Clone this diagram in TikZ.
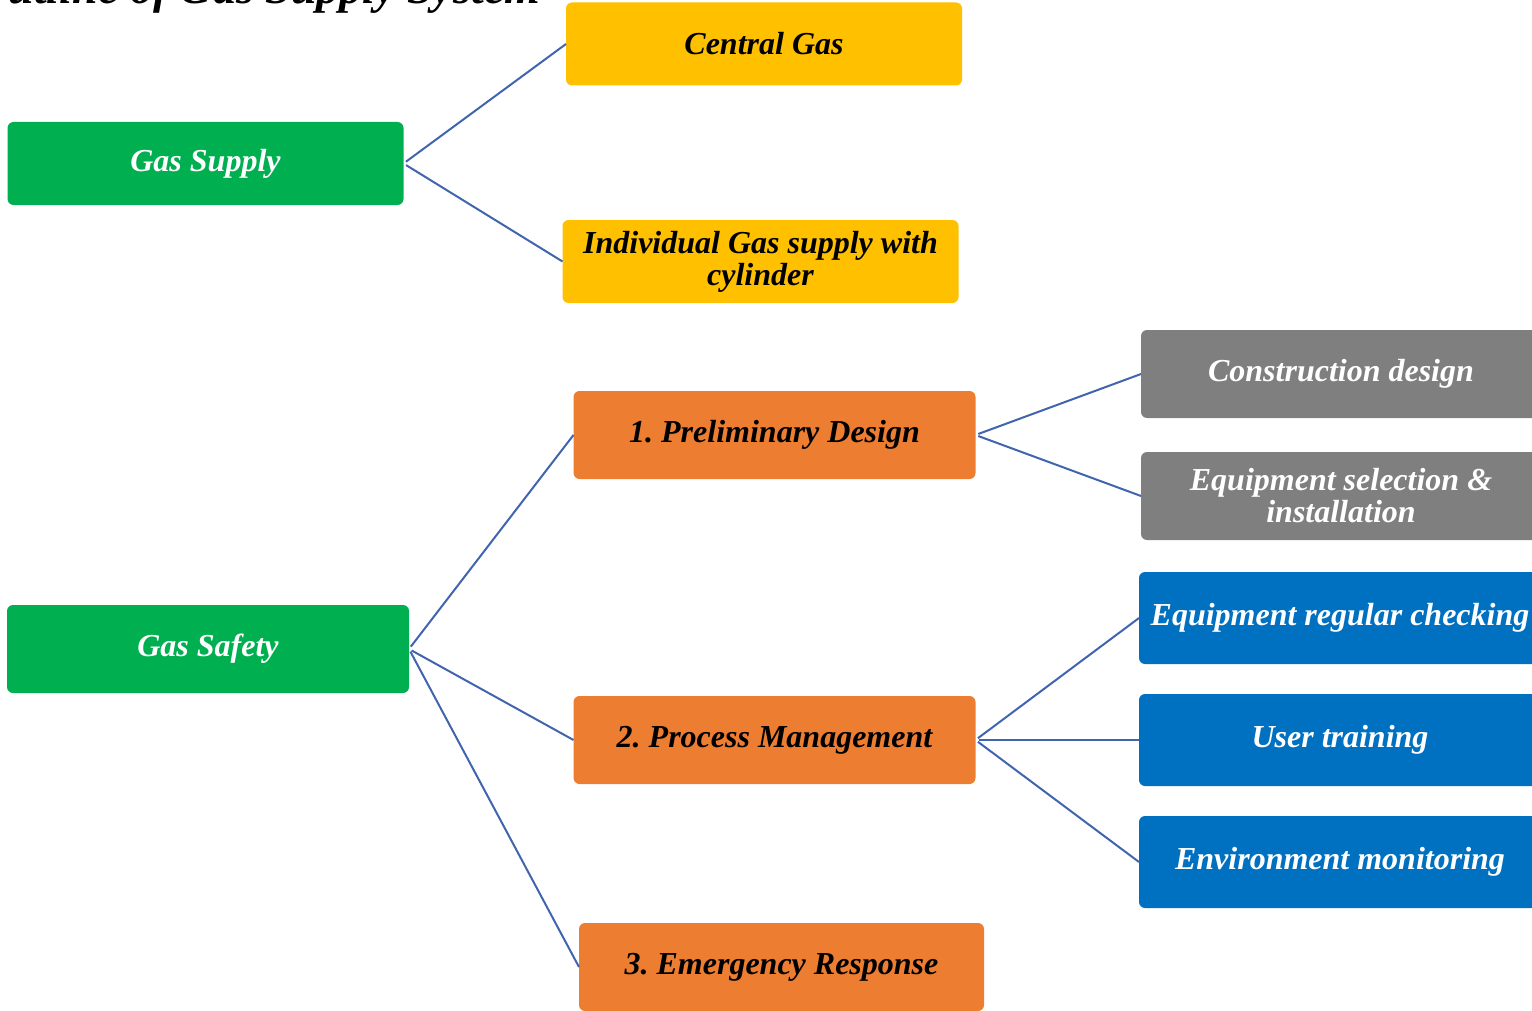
\documentclass[tikz,border=0pt]{standalone}
\usepackage{fontspec}
\setmainfont{Liberation Serif}
\frenchspacing
\definecolor{boxgreen}{HTML}{00B050}
\definecolor{boxyellow}{HTML}{FFC000}
\definecolor{boxorange}{HTML}{ED7D31}
\definecolor{boxgray}{HTML}{7F7F7F}
\definecolor{boxblue}{HTML}{0070C0}
\definecolor{linkblue}{HTML}{4164AE}
\tikzset{
  box/.style={rounded corners=3pt, inner sep=2pt, align=center, outer sep=0pt,
    font=\bfseries\itshape\fontsize{16}{16}\selectfont},
  greenbox/.style={box, fill=boxgreen, text=white, minimum width=198pt},
  yellowbox/.style={box, fill=boxyellow, text=black, minimum width=198pt, minimum height=41.5pt},
  orangebox/.style={box, fill=boxorange, text=black, minimum width=201pt, minimum height=44pt},
  graybox/.style={box, fill=boxgray, text=white, minimum width=200pt, minimum height=44pt},
  bluebox/.style={box, fill=boxblue, text=white, minimum width=201pt, minimum height=46pt},
  link/.style={draw=linkblue, line width=1pt, shorten <=1.5pt}
}
\begin{document}
\begin{tikzpicture}[x=0.5pt,y=-0.5pt]
  \useasboundingbox (0,0) rectangle (1532,1011);
  % title, cut by the page
  \node[anchor=base west, inner sep=0pt, font=\bfseries\itshape\fontsize{23}{23}\selectfont] (title) at (-25,4) {Outline of Gas Supply System};
  % level 1
  \node[greenbox, minimum height=41.5pt] (supply) at (205.5,163.5) {Gas Supply};
  \node[greenbox, minimum width=201pt, minimum height=44pt] (safety) at (208,649) {Gas Safety};
  % level 2
  \node[yellowbox] (central) at (764,44) {Central Gas};
  \node[yellowbox] (cylinder) at (760.5,261.5) {Individual Gas supply with\\cylinder};
  \node[orangebox] (prelim) at (774.5,435) {1. Preliminary Design};
  \node[orangebox] (process) at (774.5,740) {2. Process Management};
  \node[orangebox, minimum width=202.5pt] (emergency) at (781.5,967) {3. Emergency Response};
  % level 3
  \node[graybox] (construction) at (1341,374) {Construction design};
  \node[graybox] (selection) at (1341,496) {Equipment selection \&\\installation};
  \node[bluebox] (checking) at (1340,618) {Equipment regular checking};
  \node[bluebox] (training) at (1340,740) {User training};
  \node[bluebox] (monitoring) at (1340,862) {Environment monitoring};
  % links
  \draw[link] (supply.east) -- (central.west);
  \draw[link] (supply.east) -- (cylinder.west);
  \draw[link] (safety.east) -- (prelim.west);
  \draw[link] (safety.east) -- (process.west);
  \draw[link] (safety.east) -- (emergency.west);
  \draw[link] (prelim.east) -- (construction.west);
  \draw[link] (prelim.east) -- (selection.west);
  \draw[link] (process.east) -- (checking.west);
  \draw[link] (process.east) -- (training.west);
  \draw[link] (process.east) -- (monitoring.west);
\end{tikzpicture}
\end{document}
